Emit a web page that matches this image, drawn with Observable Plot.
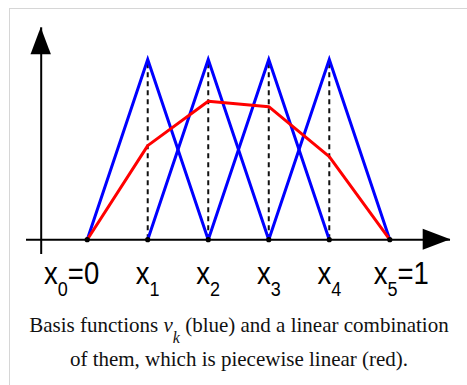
<!DOCTYPE html>
<html>
<head>
<meta charset="utf-8">
<script src="https://cdn.jsdelivr.net/npm/d3@7"></script>
<script src="https://cdn.jsdelivr.net/npm/@observablehq/plot@0.6"></script>
<style>
  html, body { margin: 0; padding: 0; background: #fff; overflow: hidden; width: 467px; height: 385px; }
  #frame { position: absolute; left: 9px; top: 8px; width: 480px; height: 400px; border: 1px solid #d6d6d6; background: #fff; }
  #chart { position: absolute; left: 0; top: 0; }
  #cap { position: absolute; left: 9px; width: 460px; top: 308.6px; text-align: center; white-space: nowrap;
         font-family: "Liberation Serif", "Times New Roman", serif; font-size: 21px; line-height: 32px; color: #111; }
  #cap .sub { position: relative; top: 11.6px; font-size: 16px; }
</style>
</head>
<body>
<div id="frame"></div>
<div id="chart"></div>
<div id="cap">Basis functions <i>v</i><span class="sub"><i>k</i></span> (blue) and a linear combination<br>of them, which is piecewise linear (red).</div>
<script>
// ---- data ----
const nodeX = [0, 0.2, 0.4, 0.6, 0.8, 1];
const labelStem = ["x", "x", "x", "x", "x", "x"];
const labelSub = ["0", "1", "2", "3", "4", "5"];
const labelTail = ["=0", "", "", "", "", "=1"];
const hatIndex = [1, 2, 3, 4];          // basis functions v_1..v_4 peak at x_1..x_4
const hatShape = [0, 1, 0];             // value at x_{k-1}, x_k, x_{k+1}
const redY = [0, 0.522, 0.768, 0.738, 0.461, 0];

// ---- derived tables ----
const hats = hatIndex.flatMap(k => hatShape.map((v, j) => ({k, x: nodeX[k - 1 + j], y: v})));
const red = nodeX.map((x, i) => ({x, y: redY[i]}));
const labels = nodeX.map((x, i) => ({x, i, text: labelStem[i] + "|" + labelSub[i] + "|" + labelTail[i]}));

const W = 467, H = 300;
const mL = 26, mR = 17, mT = 27.3, mB = 46;
const x0px = 86.7, x1px = 389.3, y0px = 239.2, y1px = 59;

const plot = Plot.plot({
  width: W, height: H,
  marginLeft: mL, marginRight: mR, marginTop: mT, marginBottom: mB,
  x: {domain: [0, 1], range: [x0px, x1px], axis: null},
  y: {domain: [0, 1], range: [y0px, y1px], axis: null},
  style: {background: "transparent", overflow: "visible"},
  marks: [
    Plot.ruleX(nodeX.slice(1, 5), {y1: 0, y2: 1, stroke: "#111", strokeWidth: 2, strokeDasharray: "5,4"}),
    Plot.line(hats, {x: "x", y: "y", z: "k", stroke: "#0000ff", strokeWidth: 3, strokeLinejoin: "miter", strokeMiterlimit: 10}),
    Plot.line(red, {x: "x", y: "y", stroke: "#ff0000", strokeWidth: 3}),
    Plot.ruleY([0], {stroke: "#000", strokeWidth: 2}),
    Plot.ruleX([0], {dx: -46, stroke: "#000", strokeWidth: 2}),
    Plot.dot(nodeX, {x: d => d, y: 0, r: 2.6, fill: "#000", stroke: null}),
    Plot.text(labels.filter(d => d.i === 0), {x: "x", y: 0, text: "text", textAnchor: "end", dx: 12, dy: 44.5, lineAnchor: "bottom"}),
    Plot.text(labels.filter(d => d.i > 0 && d.i < 5), {x: "x", y: 0, text: "text", textAnchor: "middle", dy: 44.5, lineAnchor: "bottom"}),
    Plot.text(labels.filter(d => d.i === 5), {x: "x", y: 0, text: "text", textAnchor: "start", dx: -16, dy: 44.5, lineAnchor: "bottom"})
  ]
});
document.getElementById("chart").appendChild(plot);

// post-process: arrowheads and sub-scripted labels
const svg = d3.select(plot);
const axX = x0px - 46;
svg.append("path")
  .attr("d", `M${axX},${mT} L${axX - 10.2},${mT + 27} L${axX + 10.2},${mT + 27} Z`)
  .attr("fill", "#000");
const tipX = W - mR + 0.3;
svg.append("path")
  .attr("d", `M${tipX},${y0px} L${tipX - 27.6},${y0px - 10.5} L${tipX - 27.6},${y0px + 10.5} Z`)
  .attr("fill", "#000");

svg.selectAll("text").each(function () {
  const t = this.textContent;
  if (!t.includes("|")) return;
  const [stem, sub, tail] = t.split("|");
  const el = d3.select(this);
  el.text(null).attr("dy", null).attr("y", null)
    .attr("font-family", "'Liberation Sans', Arial, sans-serif")
    .style("font-family", "'Liberation Sans', Arial, sans-serif")
    .attr("font-size", 27.5).attr("fill", "#000");
  const tr = this.getAttribute("transform") || "";
  el.attr("transform", tr + " scale(1,1.17)");
  el.append("tspan").text(stem);
  el.append("tspan").attr("dy", 9.7).attr("font-size", 18).text(sub);
  if (tail) el.append("tspan").attr("dy", -9.7).text(tail);
});
</script>
</body>
</html>
